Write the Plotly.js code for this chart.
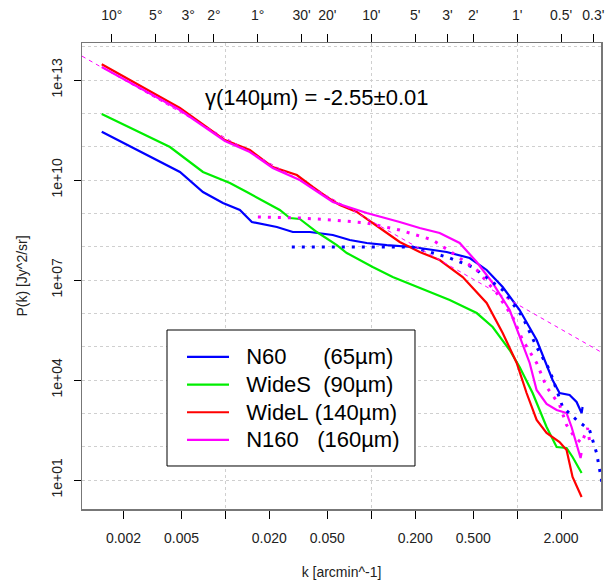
<!DOCTYPE html>
<html><head><meta charset="utf-8">
<script src="https://cdn.plot.ly/plotly-3.0.1.min.js"></script>
<style>html,body{margin:0;padding:0;background:#fff}</style>
</head><body><div id="chart" style="width:613px;height:584px"></div>
<script>
// ---- data ----
const n60K = [0.00142,0.00488,0.00702,0.00962,0.01257,0.01519,0.02254,0.02899,0.03793,0.0545,0.07122,0.09311,0.1277,0.1924,0.3289,0.4728,0.618,0.7962,1.04,1.361,1.75,1.954,2.288,2.556,2.767,2.81];
const n60P = [2.81e11,1.74e10,4.37e9,2.04e9,1.26e9,5.5e8,3.89e8,2.75e8,2.75e8,2.24e8,1.58e8,1.29e8,1.12e8,9.77e7,6.92e7,4.57e7,2.0e7,6.17e6,1.26e6,1.58e5,1.0e4,4.07e3,3.55e3,2.19e3,1.02e3,1.55e3];

const wideSK = [0.00142,0.00417,0.00702,0.01074,0.01403,0.0236,0.02767,0.03236,0.04236,0.05807,0.06796,0.1023,0.1403,0.2049,0.345,0.5284,0.6796,0.8887,1.04,1.277,1.592,1.866,2.183,2.399,2.767];
const wideSP = [9.55e11,9.77e10,1.74e10,8.13e9,4.37e9,1.26e9,7.24e8,6.76e8,2.75e8,1.12e8,6.46e7,2.45e7,1.23e7,6.17e6,2.51e6,1.02e6,3.89e5,7.94e4,2.45e4,4.07e3,389,97.7,91.2,49.0,16.2];

const wideLK = [0.00142,0.00488,0.00993,0.01472,0.02113,0.0309,0.03972,0.04955,0.06081,0.07962,0.1023,0.1567,0.2148,0.2944,0.4236,0.618,0.7962,0.9931,1.161,1.361,1.592,1.954,2.183,2.399,2.767];
const wideLP = [2.96e13,1.45e12,1.58e11,7.94e10,2.45e10,1.41e10,6.17e9,3.09e9,1.78e9,1.1e9,5.13e8,1.38e8,6.92e7,3.98e7,1.23e7,2.04e6,2.57e5,3.24e4,4.07e3,631,257,138,79.4,12.3,3.09];

const n160K = [0.00142,0.00488,0.00993,0.01472,0.02113,0.03236,0.0545,0.09311,0.1567,0.2148,0.2944,0.4036,0.5284,0.6796,0.8887,1.04,1.219,1.36,1.592,1.866,2.183,2.361,2.595,2.723,2.767];
const n160P = [2.45e13,1.26e12,1.48e11,6.92e10,2.29e10,1.0e10,2.19e9,1.02e9,5.5e8,3.63e8,2.57e8,1.29e8,3.47e7,8.13e6,1.26e6,1.95e5,3.24e4,5.01e3,1.91e3,1.26e3,1.02e3,389,97.7,45.7,64.6];

// dotted companion curves
const n60DotK = [0.02853,0.07122,0.1924,0.345,0.4955,0.7962,1.091,1.361,1.669,2.049,2.556,3.137,3.505,3.79,3.91];
const n60DotP = [9.77e7,9.77e7,9.77e7,4.57e7,2.45e7,5.01e6,7.76e5,9.77e4,2.0e4,1.55e3,631,316,64.6,10,2.51];

const n160DotK = [0.0167,0.03236,0.0545,0.09311,0.1567,0.2637,0.3614,0.5284,0.7236,0.9315,1.091,1.361,1.592,1.954,2.183,2.475,2.767,3.04,3.187];
const n160DotP = [7.76e8,7.24e8,6.31e8,5.13e8,3.16e8,1.58e8,6.46e7,2.0e7,4.07e6,7.76e5,1.58e5,3.24e4,6.17e3,1.78e3,447,195,129,363,97.7];

// power-law fit line (dashed)
const fitK = [0.00104, 3.76];
const fitP = [5.2e13, 6.9e4];

// axis ticks
const bottomTickVals = [0.002,0.005,0.01,0.02,0.05,0.1,0.2,0.5,1,2];
const bottomTickText = ['0.002','0.005','','0.020','0.050','','0.200','0.500','','2.000'];
const gridXVals = [0.01,0.1,1];
const topTickArcmin = [600,300,180,120,60,30,20,10,5,3,2,1,0.5,0.3];
const topTickText = ['10°','5°','3°','2°','1°',"30'","20'","10'","5'","3'","2'","1'","0.5'","0.3'"];
const yTickVals = [1e1,1e4,1e7,1e10,1e13];
const yTickText = ['1e+01','1e+04','1e+07','1e+10','1e+13'];
const yGridVals = [1e0,1e1,1e2,1e3,1e4,1e5,1e6,1e7,1e8,1e9,1e10,1e11,1e12,1e13,1e14];

const NB = '\u00a0';
const legendNames = [
  NB+NB+'N60'+NB.repeat(6)+'(65µm)',
  NB+NB+'WideS'+NB.repeat(2)+'(90µm)',
  NB+NB+'WideL'+NB+'(140µm)',
  NB+NB+'N160'+NB.repeat(3)+'(160µm)'
].map(s => '<span style="font-size:22px">' + s + '</span>');

const FONT = 'Liberation Sans, Arial, sans-serif';
const TXT = '#222';
const SOLID_W = 2.2;
const DOT = {width: 3, dash: '3px,7px'};

const traces = [
  {x: n60K, y: n60P, mode: 'lines', name: legendNames[0], line: {color: '#0000ff', width: SOLID_W}},
  {x: wideSK, y: wideSP, mode: 'lines', name: legendNames[1], line: {color: '#00ee00', width: SOLID_W}},
  {x: wideLK, y: wideLP, mode: 'lines', name: legendNames[2], line: {color: '#ff0000', width: SOLID_W}},
  {x: n160K, y: n160P, mode: 'lines', name: legendNames[3], line: {color: '#ff00ff', width: SOLID_W}},
  {x: n60DotK, y: n60DotP, xaxis: 'x2', yaxis: 'y', mode: 'lines', showlegend: false, line: Object.assign({color: '#0000ff'}, DOT)},
  {x: n160DotK, y: n160DotP, xaxis: 'x2', yaxis: 'y', mode: 'lines', showlegend: false, line: Object.assign({color: '#ff00ff'}, DOT)},
  {x: fitK, y: fitP, xaxis: 'x3', yaxis: 'y2', mode: 'lines', showlegend: false, line: {color: '#ff00ff', width: 1, dash: '4px,4px'}}
];
traces.forEach(t => { t.hoverinfo = 'skip'; });

const XR = [-2.983, 0.575];
const YR = [0.13, 14.11];

const layout = {
  width: 613, height: 584,
  margin: {l: 82, r: 12, t: 43, b: 75},
  paper_bgcolor: '#fff', plot_bgcolor: '#fff',
  font: {family: FONT, size: 14, color: TXT},
  showlegend: true,
  xaxis: {
    type: 'log', range: XR, tickmode: 'array', tickvals: bottomTickVals, ticktext: bottomTickText,
    ticks: 'outside', ticklen: 8, tickcolor: '#000', tickwidth: 1, ticklabelstandoff: 8,
    showgrid: false, zeroline: false, showline: true, mirror: true, linecolor: '#777', linewidth: 1.5,
    tickfont: {size: 14, color: TXT},
    title: {text: 'k [arcmin^-1]', font: {size: 14, color: TXT}, standoff: 22}
  },
  xaxis2: {
    type: 'log', range: XR, overlaying: 'x', side: 'top', anchor: 'y',
    tickmode: 'array', tickvals: topTickArcmin.map(a => 1 / a), ticktext: topTickText,
    ticks: 'outside', ticklen: 8, tickcolor: '#000', tickwidth: 1, ticklabelstandoff: 8,
    showgrid: false, zeroline: false, showline: false, tickfont: {size: 14, color: TXT}
  },
  xaxis3: {
    type: 'log', range: XR, overlaying: 'x', anchor: 'y', tickmode: 'array', tickvals: gridXVals,
    showgrid: true, gridcolor: '#cfcfcf', griddash: 'dot', gridwidth: 1,
    ticks: '', showticklabels: false, showline: false, zeroline: false
  },
  yaxis: {
    type: 'log', range: YR, tickmode: 'array', tickvals: yTickVals, ticktext: yTickText, tickangle: -90,
    ticks: 'outside', ticklen: 7, tickcolor: '#000', tickwidth: 1, ticklabelstandoff: 6,
    showgrid: false, zeroline: false, showline: true, mirror: true, linecolor: '#777', linewidth: 1.5,
    tickfont: {size: 14, color: TXT},
    title: {text: 'P(k) [Jy^2/sr]', font: {size: 14, color: TXT}, standoff: 18}
  },
  yaxis2: {
    type: 'log', range: YR, overlaying: 'y', anchor: 'x', tickmode: 'array', tickvals: yGridVals,
    showgrid: true, gridcolor: '#cfcfcf', griddash: 'dot', gridwidth: 1,
    ticks: '', showticklabels: false, showline: false, zeroline: false
  },
  legend: {
    x: 0.1927, y: 0.367, xanchor: 'left', yanchor: 'top',
    bgcolor: 'rgba(0,0,0,0)', borderwidth: 0,
    font: {size: 19, color: '#000', family: FONT},
    itemwidth: 42
  },
  shapes: [{
    type: 'rect', xref: 'paper', yref: 'paper', x0: 0.1638, x1: 0.6416, y0: 0.0923, y1: 0.3841,
    fillcolor: '#fff', line: {color: '#000', width: 1}, layer: 'above'
  }],
  annotations: [{
    xref: 'paper', yref: 'paper', x: 0.4515, y: 0.884, xanchor: 'center', yanchor: 'middle',
    text: 'γ(140µm) = -2.55±0.01', showarrow: false, font: {size: 22, color: '#000', family: FONT}
  }]
};

Plotly.newPlot('chart', traces, layout, {displayModeBar: false, staticPlot: true});
</script></body></html>
